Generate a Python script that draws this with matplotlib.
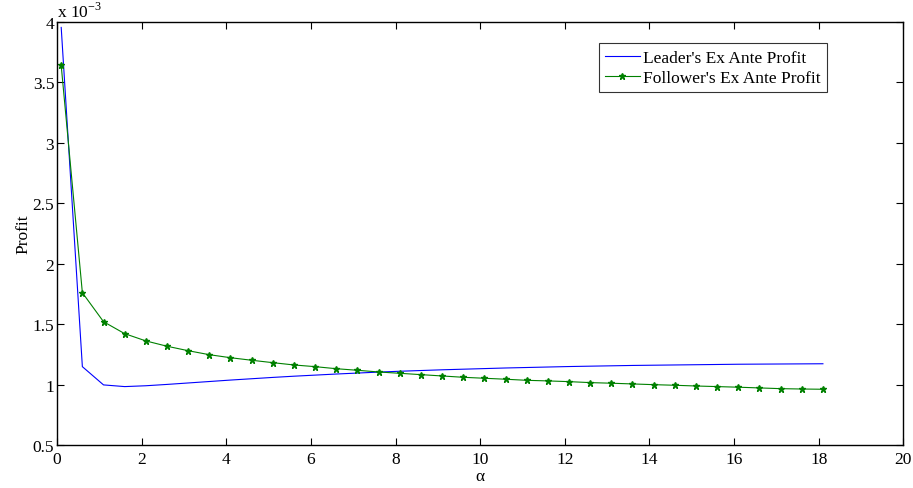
import numpy as np
import matplotlib.pyplot as plt

# alpha values (0.1 to 18.1, every 0.5)
alpha = [0.1, 0.6, 1.1, 1.6, 2.1, 2.6, 3.1, 3.6, 4.1, 4.6, 5.1, 5.6, 6.1,
         6.6, 7.1, 7.6, 8.1, 8.6, 9.1, 9.6, 10.1, 10.6, 11.1, 11.6, 12.1,
         12.6, 13.1, 13.6, 14.1, 14.6, 15.1, 15.6, 16.1, 16.6, 17.1, 17.6, 18.1]

# profits in units of 1e-3
leader_profit = [3.955, 1.148, 0.997, 0.983, 0.990, 1.001, 1.013, 1.025, 1.037,
                 1.048, 1.059, 1.069, 1.078, 1.087, 1.095, 1.103, 1.110, 1.116,
                 1.122, 1.127, 1.132, 1.137, 1.141, 1.145, 1.149, 1.152, 1.155,
                 1.158, 1.160, 1.162, 1.164, 1.166, 1.168, 1.169, 1.170, 1.171, 1.172]
follower_profit = [3.64, 1.760, 1.520, 1.421, 1.361, 1.317, 1.280, 1.247, 1.222,
                   1.201, 1.181, 1.162, 1.148, 1.131, 1.118, 1.104, 1.093, 1.082,
                   1.071, 1.060, 1.052, 1.044, 1.035, 1.030, 1.024, 1.016, 1.011,
                   1.005, 0.999, 0.994, 0.988, 0.983, 0.978, 0.972, 0.966, 0.963, 0.961]

yticks = [0.5, 1, 1.5, 2, 2.5, 3, 3.5, 4]
ytick_labels = ['0.5', '1', '1.5', '2', '2.5', '3', '3.5', '4']
xticks = list(range(0, 21, 2))

plt.rcParams['font.family'] = ['Liberation Serif', 'DejaVu Serif']
plt.rcParams['font.size'] = 12.5

fig = plt.figure(figsize=(9.13, 4.89), dpi=100)
ax = fig.add_axes([0.0624, 0.088, 0.927, 0.865])

ax.plot(alpha, leader_profit, color='#0000ff', lw=0.8, label="Leader's Ex Ante Profit")
ax.plot(alpha, follower_profit, color='#008000', lw=0.8, marker='*', ms=4.5,
        label="Follower's Ex Ante Profit")

ax.set_xlim(0, 20)
ax.set_ylim(0.5, 4)
ax.set_xticks(xticks)
ax.set_yticks(yticks)
ax.set_yticklabels(ytick_labels)
ax.tick_params(direction='in', top=True, right=True, length=5, width=0.8)
ax.tick_params(axis='x', pad=4)
ax.tick_params(axis='y', pad=2)
for s in ax.spines.values():
    s.set_linewidth(1.0)

ax.set_xlabel(r'$\mathregular{\alpha}$', labelpad=1)
ax.set_ylabel('Profit', labelpad=1)
ax.text(0, 1.003, r'x 10$^{\mathregular{-3}}$', transform=ax.transAxes,
        ha='left', va='bottom')

leg = ax.legend(loc='upper right', bbox_to_anchor=(0.92, 0.97), frameon=True,
                fancybox=False, edgecolor='black', borderpad=0.35,
                handlelength=2.0, handletextpad=0.2, labelspacing=0.25)
leg.get_frame().set_linewidth(0.8)

fig.savefig('out.png', dpi=100)
